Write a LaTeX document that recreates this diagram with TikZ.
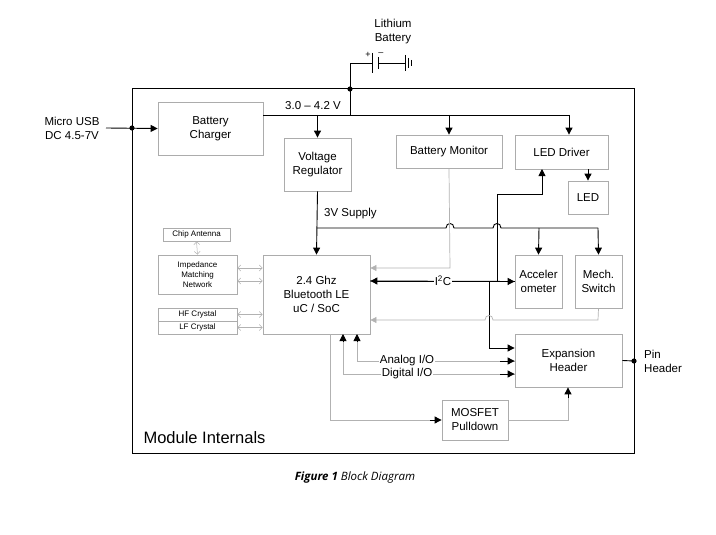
\documentclass[tikz,border=0pt]{standalone}
\usepackage{fontspec}
\setmainfont{Liberation Sans}
\newfontfamily\capfont{Open Sans}
\usetikzlibrary{arrows.meta}
\begin{document}
\begin{tikzpicture}[x=1pt,y=-1pt,
  box/.style={draw=gray!65,line width=0.8pt,inner sep=0pt,align=center,font=\fontsize{11.5}{14}\selectfont},
  sbox/.style={draw=gray!65,line width=0.8pt,inner sep=0pt,align=center,font=\fontsize{8}{10}\selectfont},
  wire/.style={line width=0.9pt},
  gwire/.style={line width=0.7pt,draw=gray!60},
  arr/.style={-{Triangle[length=7pt,width=7pt]}},
  garr/.style={-{Triangle[length=6pt,width=6pt]}},
  dbl/.style={gray!60,line width=0.5pt,{Straight Barb[length=3pt,width=6pt]}-{Straight Barb[length=3pt,width=6pt]}},
  lbl/.style={font=\fontsize{11.5}{14}\selectfont,inner sep=1pt}]
\useasboundingbox (0,0) rectangle (716,535);
\draw[line width=1pt] (132,89) rectangle (634,453);
\node[font=\fontsize{16.5}{18}\selectfont,anchor=west] (mi) at (140,438) {Module Internals};

% boxes
\node[box,minimum width=105pt,minimum height=53pt] (bc) at (210.5,128.5) {Battery\\Charger};
\node[box,minimum width=67pt,minimum height=53pt] (vr) at (317.5,164.5) {Voltage\\Regulator};
\node[box,minimum width=106pt,minimum height=33pt] (bm) at (449,151.5) {Battery Monitor};
\node[box,minimum width=93pt,minimum height=34pt] (ld) at (561.5,152) {LED Driver};
\node[box,minimum width=40pt,minimum height=33pt] (led) at (588,197.5) {LED};
\node[box,minimum width=107pt,minimum height=79pt] (bt) at (316.5,294.5) {2.4 Ghz\\Bluetooth LE\\uC / SoC};
\node[box,minimum width=47pt,minimum height=53pt] (acc) at (538.5,281.5) {Acceler\\ometer};
\node[box,minimum width=47pt,minimum height=53pt] (ms) at (598.5,281.5) {Mech.\\Switch};
\node[sbox,minimum width=67pt,minimum height=13pt] (ant) at (196.5,234.5) {Chip Antenna};
\node[sbox,minimum width=79pt,minimum height=39pt] (imp) at (197.5,274.5) {Impedance\\Matching\\Network};
\node[sbox,minimum width=79pt,minimum height=13pt] (hf) at (197.5,314.5) {HF Crystal};
\node[sbox,minimum width=79pt,minimum height=13pt] (lf) at (197.5,327.5) {LF Crystal};
\node[box,minimum width=107pt,minimum height=53pt] (eh) at (568.5,360.5) {Expansion\\Header};
\node[box,minimum width=66pt,minimum height=40pt] (mos) at (475,420) {MOSFET\\Pulldown};

% external labels
\node[lbl,align=center] (lith) at (393,32) {Lithium\\Battery};
\node[lbl,align=center] (usb) at (72,128) {Micro USB\\DC 4.5-7V};
\node[lbl,align=left,anchor=west] (pin) at (643,361) {Pin\\Header};

% battery
\coordinate (j1) at (350,89);
\coordinate (bt1) at (350,63);
\coordinate (p1) at (372,63);
\coordinate (p2) at (378,63);
\coordinate (g) at (405,63);
\draw[wire] (j1) -- (bt1) -- (p1);
\draw[wire] (p1) ++(0,-10) -- ++(0,20);
\draw[wire] (p2) ++(0,-6) -- ++(0,12);
\draw[wire] (p2) -- (g);
\draw[wire] (g) ++(0,-8) -- ++(0,16);
\draw[line width=0.7pt] (408,58) -- (408,68) (411,60) -- (411,66);
\node[font=\fontsize{9}{10}\selectfont] (plus) at (368,55) {+};
\node[font=\fontsize{9}{10}\selectfont] (minus) at (381,54) {\textendash};
\fill (j1) circle (2.6pt);

% main rail
\coordinate (r0) at (263,115);
\coordinate (rj) at (350,115);
\coordinate (rend) at (569,115);
\draw[wire] (j1) -- (rj);
\draw[wire] (bc.east |- r0) -- (rend);
\node[lbl,anchor=south] (v42) at (313,111) {3.0 \textendash{} 4.2 V};
\draw[wire,arr] (vr.north |- r0) -- (vr.north);
\draw[wire,arr] (bm.north |- r0) -- (bm.north);
\draw[wire,arr] (rend) -- (rend |- ld.north);
\draw[wire,arr] (ld.south -| led) -- (led.north);

% usb
\coordinate (uj) at (132,128);
\draw[wire,arr] (106,128) -- (bc.west);
\fill (uj) circle (2.6pt);

% 3V supply
\draw[wire,arr] (vr.south) -- (bt.north);
\node[lbl,anchor=west] (s3) at (323,214) {3V Supply};
\draw[wire] (317,228) -- (446,228) .. controls (446,222) and (454,222) .. (454,228)
  -- (493,228) .. controls (493,222) and (501,222) .. (501,228) -- (598,228);
\draw[wire,arr] (539,228) -- (acc.north);
\draw[wire,arr] (598,228) -- (ms.north);

% battery monitor to BT
\draw[gwire,garr] (bm.south) -- (450,268) -- (bt.east |- 0,268);

% I2C
\draw[wire,arr] (515,281) -- (bt.east |- 0,281);
\draw[wire,arr] (370,281) -- (acc.west);
\node[lbl,fill=white,inner sep=1pt] (i2c) at (443,281) {I\textsuperscript{2}C};
\draw[wire,arr] (497,281) -- (497,194) -- (542,194) -- (542,169);
\draw[wire,arr] (489,281) -- (489,348) -- (eh.west |- 0,348);

% mech switch
\draw[gwire,garr] (ms.south) -- (598,320) -- (493,320) .. controls (493,314) and (485,314) .. (485,320) -- (bt.east |- 0,320);

% left links
\draw[dbl] (ant.south) -- (imp.north);
\draw[dbl] (imp.east |- 0,268) -- (bt.west |- 0,268);
\draw[dbl] (imp.east |- 0,281) -- (bt.west |- 0,281);
\draw[dbl] (hf.east) -- (bt.west |- hf);
\draw[dbl] (lf.east) -- (bt.west |- lf);

% analog / digital
\draw[gwire] (357,361) -- (515,361);
\draw[gwire] (343,374) -- (515,374);
\draw[gwire] (357,361) -- (357,340) (343,374) -- (343,340);
\draw[wire,arr] (357,342) -- (357,334);
\draw[wire,arr] (343,342) -- (343,334);
\draw[wire,arr] (500,361) -- (eh.west |- 0,361);
\draw[wire,arr] (500,374) -- (eh.west |- 0,374);
\node[lbl,fill=white] (ana) at (407,361) {Analog I/O};
\node[lbl,fill=white] (dig) at (407,374) {Digital I/O};

% mosfet
\draw[gwire] (330,334) -- (330,420) -- (430,420);
\draw[wire,arr] (430,420) -- (mos.west);
\draw[gwire] (mos.east) -- (568,420) -- (568,398);
\draw[wire,arr] (568,398) -- (eh.south -| 568,0);

% pin header
\draw[wire] (eh.east) -- (634,361);
\fill (634,361) circle (2.6pt);

% caption
\node[font=\capfont\fontsize{11.5}{13}\selectfont\itshape] (cap) at (355,478) {\textbf{Figure 1} Block Diagram};
\end{tikzpicture}
\end{document}
